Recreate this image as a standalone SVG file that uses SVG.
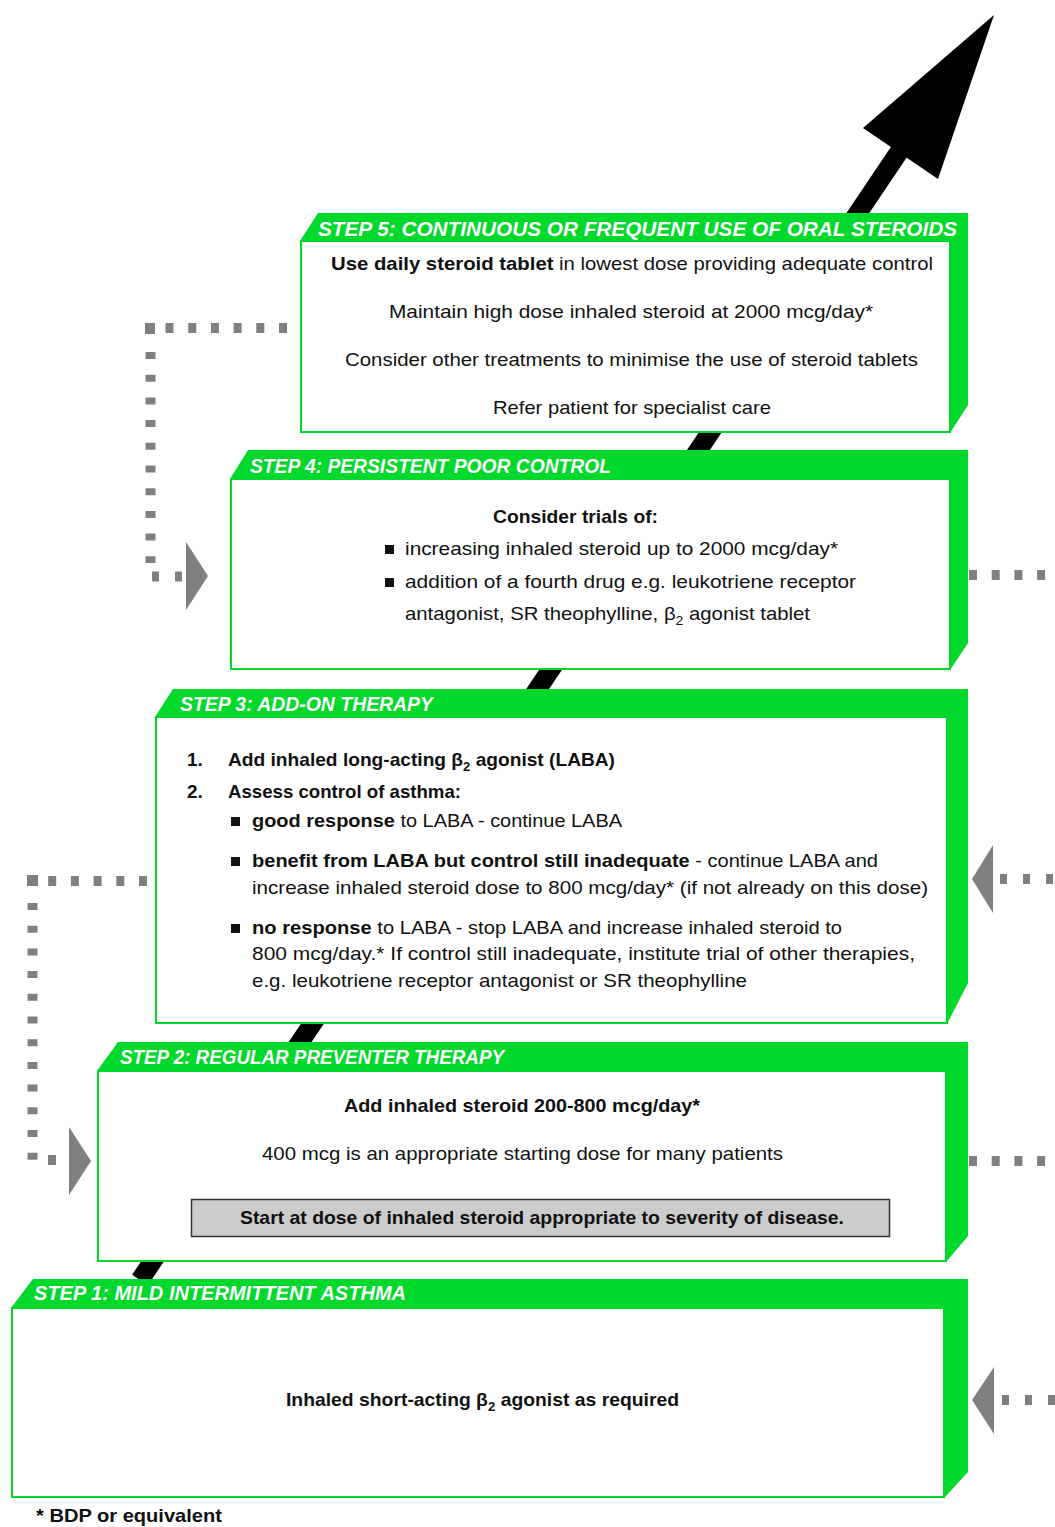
<svg xmlns="http://www.w3.org/2000/svg" width="1055" height="1527" viewBox="0 0 1055 1527">
<style>
.box{fill:#ffffff;stroke:#00d82b;stroke-width:2}
.band{fill:#00d82b}
.hd{font-family:"Liberation Sans",Arial,sans-serif;font-size:20px;font-weight:bold;font-style:italic;fill:#ffffff}
.t{font-family:"Liberation Sans",Arial,sans-serif;font-size:19px;fill:#111111}
.b{font-weight:bold}
.dot{fill:none;stroke:#808080;stroke-width:10}
.arr{fill:#808080}
.sub{font-size:13px}
</style>
<rect width="1055" height="1527" fill="#ffffff"/>

<g id="main-arrow">
  <line x1="140" y1="1280" x2="905" y2="143" stroke="#000000" stroke-width="19"/>
  <polygon points="994,15 863,128 938,179" fill="#000000"/>
</g>

<g id="connectors">
  <!-- step 5 to step 4, left side -->
  <path class="dot" d="M287 328 H156" stroke-dasharray="8 14.7"/>
  <rect x="145" y="323" width="10" height="11" fill="#808080"/>
  <path class="dot" d="M150.5 352 V563" stroke-width="11" stroke-dasharray="7 15.7"/>
  <path class="dot" d="M152 576.5 H183" stroke-width="9" stroke-dasharray="7 16"/>
  <polygon class="arr" points="186,542 208,576 186,610"/>
  <!-- step 3 to step 2, left side -->
  <path class="dot" d="M147 881 H40" stroke-dasharray="8 14.7"/>
  <rect x="27" y="875" width="11" height="11" fill="#808080"/>
  <path class="dot" d="M32.5 903 V1160" stroke-width="11" stroke-dasharray="7 15.7"/>
  <path class="dot" d="M48 1160 H56" stroke-width="10"/>
  <polygon class="arr" points="69,1127 91,1161 69,1195"/>
  <!-- step 4 right -->
  <path class="dot" d="M969 575 H1055" stroke-dasharray="8 14.7"/>
  <!-- step 3 right -->
  <polygon class="arr" points="972,879 993,845 993,913"/>
  <path class="dot" d="M1000 879 H1055" stroke-dasharray="7 16"/>
  <!-- step 2 right -->
  <path class="dot" d="M969 1161 H1055" stroke-dasharray="8 14.7"/>
  <!-- step 1 right -->
  <polygon class="arr" points="972,1400 994,1367 994,1434"/>
  <path class="dot" d="M1002 1400 H1055" stroke-dasharray="7 16"/>
</g>

<g id="step5">
  <rect class="box" x="301" y="241" width="649" height="191"/>
  <polygon class="band" points="318,213 968,213 968,405 950,433 950,241 300,241"/>
  <text class="hd" x="318" y="236" textLength="639" lengthAdjust="spacingAndGlyphs">STEP 5: CONTINUOUS OR FREQUENT USE OF ORAL STEROIDS</text>
  <text class="t" x="331" y="270" textLength="602" lengthAdjust="spacingAndGlyphs"><tspan class="b">Use daily steroid tablet</tspan> in lowest dose providing adequate control</text>
  <text class="t" x="389" y="318" textLength="484" lengthAdjust="spacingAndGlyphs">Maintain high dose inhaled steroid at 2000 mcg/day*</text>
  <text class="t" x="345" y="366" textLength="573" lengthAdjust="spacingAndGlyphs">Consider other treatments to minimise the use of steroid tablets</text>
  <text class="t" x="493" y="414" textLength="278" lengthAdjust="spacingAndGlyphs">Refer patient for specialist care</text>
</g>

<g id="step4">
  <rect class="box" x="231" y="479" width="719" height="190"/>
  <polygon class="band" points="248,450 968,450 968,643 950,670 950,479 230,479"/>
  <text class="hd" x="250" y="473" textLength="361" lengthAdjust="spacingAndGlyphs">STEP 4: PERSISTENT POOR CONTROL</text>
  <text class="t b" x="493" y="523" textLength="165" lengthAdjust="spacingAndGlyphs">Consider trials of:</text>
  <rect x="385" y="545" width="9" height="9" fill="#111111"/>
  <text class="t" x="405" y="555" textLength="433" lengthAdjust="spacingAndGlyphs">increasing inhaled steroid up to 2000 mcg/day*</text>
  <rect x="385" y="578" width="9" height="9" fill="#111111"/>
  <text class="t" x="405" y="588" textLength="451" lengthAdjust="spacingAndGlyphs">addition of a fourth drug e.g. leukotriene receptor</text>
  <text class="t" x="405" y="620" textLength="405" lengthAdjust="spacingAndGlyphs">antagonist, SR theophylline, β<tspan class="sub" dy="5">2</tspan><tspan dy="-5"> agonist tablet</tspan></text>
</g>

<g id="step3">
  <rect class="box" x="156" y="717" width="791" height="306"/>
  <polygon class="band" points="173,689 968,689 968,983 947,1024 947,717 155,717"/>
  <text class="hd" x="180" y="711" textLength="253" lengthAdjust="spacingAndGlyphs">STEP 3: ADD-ON THERAPY</text>
  <text class="t b" x="187" y="766">1.</text>
  <text class="t b" x="228" y="766" textLength="387" lengthAdjust="spacingAndGlyphs">Add inhaled long-acting β<tspan class="sub" dy="5">2</tspan><tspan dy="-5"> agonist (LABA)</tspan></text>
  <text class="t b" x="187" y="798">2.</text>
  <text class="t b" x="228" y="798" textLength="233" lengthAdjust="spacingAndGlyphs">Assess control of asthma:</text>
  <rect x="231" y="817" width="9" height="9" fill="#111111"/>
  <text class="t" x="252" y="827" textLength="370" lengthAdjust="spacingAndGlyphs"><tspan class="b">good response</tspan> to LABA - continue LABA</text>
  <rect x="231" y="857" width="9" height="9" fill="#111111"/>
  <text class="t" x="252" y="867" textLength="626" lengthAdjust="spacingAndGlyphs"><tspan class="b">benefit from LABA but control still inadequate</tspan> - continue LABA and</text>
  <text class="t" x="252" y="894" textLength="676" lengthAdjust="spacingAndGlyphs">increase inhaled steroid dose to 800 mcg/day* (if not already on this dose)</text>
  <rect x="231" y="924" width="9" height="9" fill="#111111"/>
  <text class="t" x="252" y="934" textLength="590" lengthAdjust="spacingAndGlyphs"><tspan class="b">no response</tspan> to LABA - stop LABA and increase inhaled steroid to</text>
  <text class="t" x="252" y="960" textLength="663" lengthAdjust="spacingAndGlyphs">800 mcg/day.* If control still inadequate, institute trial of other therapies,</text>
  <text class="t" x="252" y="987" textLength="495" lengthAdjust="spacingAndGlyphs">e.g. leukotriene receptor antagonist or SR theophylline</text>
</g>

<g id="step2">
  <rect class="box" x="98" y="1071" width="848" height="190"/>
  <polygon class="band" points="118,1042 968,1042 968,1236 946,1262 946,1071 97,1071"/>
  <text class="hd" x="120" y="1064" textLength="384" lengthAdjust="spacingAndGlyphs">STEP 2: REGULAR PREVENTER THERAPY</text>
  <text class="t b" x="344" y="1112" textLength="356" lengthAdjust="spacingAndGlyphs">Add inhaled steroid 200-800 mcg/day*</text>
  <text class="t" x="262" y="1160" textLength="521" lengthAdjust="spacingAndGlyphs">400 mcg is an appropriate starting dose for many patients</text>
  <rect x="191.5" y="1199.5" width="698" height="37" fill="#cccccc" stroke="#333333" stroke-width="1.5"/>
  <text class="t b" x="240" y="1224" textLength="604" lengthAdjust="spacingAndGlyphs">Start at dose of inhaled steroid appropriate to severity of disease.</text>
</g>

<g id="step1">
  <rect class="box" x="12" y="1308" width="932" height="189"/>
  <polygon class="band" points="33,1279 968,1279 968,1472 944,1498 944,1308 11,1308"/>
  <text class="hd" x="34" y="1300" textLength="372" lengthAdjust="spacingAndGlyphs">STEP 1: MILD INTERMITTENT ASTHMA</text>
  <text class="t b" x="286" y="1406" textLength="393" lengthAdjust="spacingAndGlyphs">Inhaled short-acting β<tspan class="sub" dy="5">2</tspan><tspan dy="-5"> agonist as required</tspan></text>
</g>

<text id="footnote" class="t b" x="36" y="1522" textLength="186" lengthAdjust="spacingAndGlyphs">* BDP or equivalent</text>
</svg>
